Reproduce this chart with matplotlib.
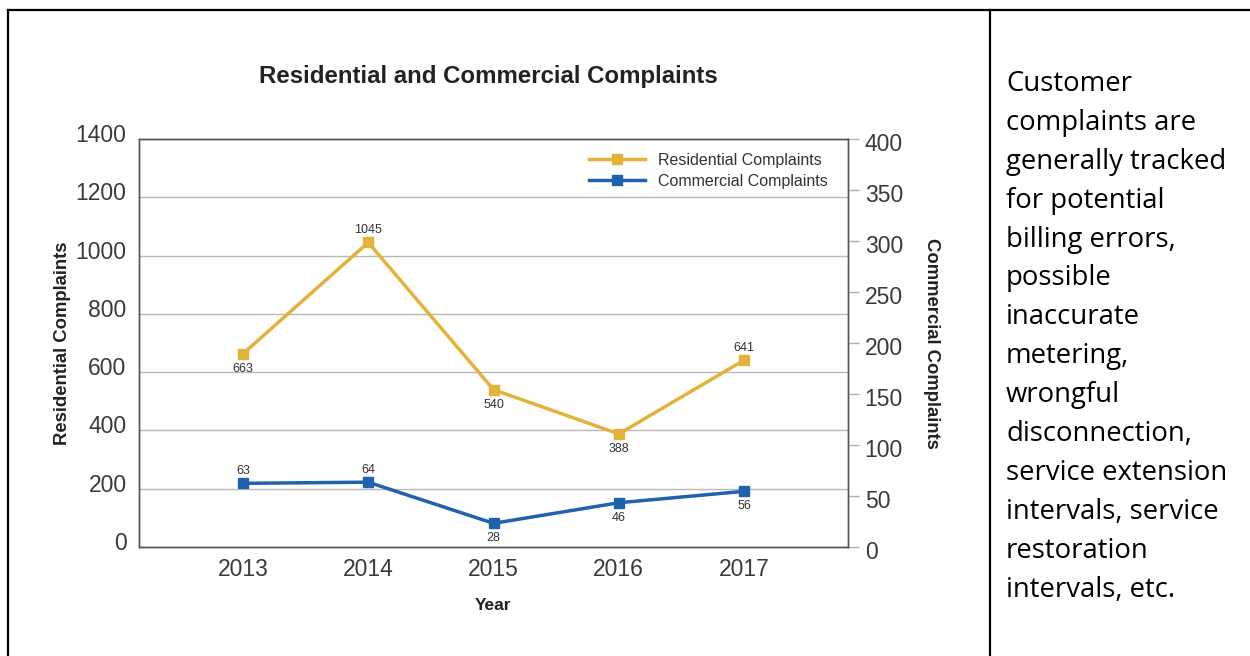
import matplotlib
matplotlib.use("Agg")
import matplotlib.pyplot as plt
import matplotlib.transforms as mtransforms
from matplotlib.lines import Line2D

years = [2013, 2014, 2015, 2016, 2017]
residential = [663, 1045, 540, 388, 641]
commercial = [63, 64, 28, 46, 56]
res_label_pos = ["below", "above", "below", "below", "above"]
com_label_pos = ["above", "above", "below", "below", "below"]
left_ticks = [0, 200, 400, 600, 800, 1000, 1200, 1400]
right_ticks = [0, 50, 100, 150, 200, 250, 300, 350, 400]
side_text = ["Customer", "complaints are", "generally tracked", "for potential",
             "billing errors,", "possible", "inaccurate", "metering,", "wrongful",
             "disconnection,", "service extension", "intervals, service",
             "restoration", "intervals, etc."]

GOLD = "#e2b33b"
BLUE = "#1f62ae"
plt.rcParams['font.family'] = ['Liberation Sans', 'DejaVu Sans']

W, H = 1250, 656
fig = plt.figure(figsize=(W / 100, H / 100), dpi=100)
fig.patch.set_facecolor("white")

def fx(px):
    return px / W

def fy(py):
    return 1 - py / H

# table borders
for (x0, y0, x1, y1) in [(8, 10, 1250, 10), (8, 10, 8, 656), (990, 10, 990, 656)]:
    fig.add_artist(Line2D([fx(x0), fx(x1)], [fy(y0), fy(y1)], color="black", lw=1.6))

L, R, T, B = 139, 848, 139, 547
rect = [fx(L), fy(B), fx(R) - fx(L), fy(T) - fy(B)]
ax = fig.add_axes(rect)
ax2 = ax.twinx()
# the commercial series in the source chart is drawn on a slightly different scale
ax3 = ax.twinx()
ax3.set_ylim(7.3, 364.2)
ax3.axis("off")

ax.set_xlim(2012.17, 2017.83)
ax.set_ylim(0, 1400)
ax2.set_ylim(0, 400)

ax.set_yticks(left_ticks)
ax.set_yticklabels([str(v) for v in left_ticks], fontsize=16.5, color="#3a3a3a")
ax.tick_params(axis="y", length=0, pad=9)
up = mtransforms.ScaledTranslation(0, 6 / 100, fig.dpi_scale_trans)
for lab in ax.get_yticklabels():
    lab.set_transform(lab.get_transform() + up)
ax.set_xticks(years)
ax.set_xticklabels([str(y) for y in years], fontsize=16.5, color="#3a3a3a")
ax.tick_params(axis="x", length=0, pad=8)
ax.grid(axis="y", color="#b8b8b8", lw=1)
ax.set_axisbelow(True)

ax2.set_yticks(right_ticks)
ax2.set_yticklabels([str(v) for v in right_ticks], fontsize=16.5, color="#3a3a3a")
ax2.tick_params(axis="y", length=8, width=1, color="#b0b0b0", pad=4)
down = mtransforms.ScaledTranslation(0, -3 / 100, fig.dpi_scale_trans)
for lab in ax2.get_yticklabels():
    lab.set_transform(lab.get_transform() + down)

for sp in ["left", "top", "bottom", "right"]:
    ax.spines[sp].set_color("#555555")
    ax2.spines[sp].set_color("#555555")
    ax.spines[sp].set_linewidth(1)
    ax2.spines[sp].set_linewidth(1)

l1, = ax.plot(years, residential, color=GOLD, lw=2.5, marker="s", ms=7.5,
              label="Residential Complaints")
l2, = ax3.plot(years, commercial, color=BLUE, lw=2.5, marker="s", ms=7.5,
               label="Commercial Complaints")

def label_points(a, xs, vs, poss):
    for x, v, p in zip(xs, vs, poss):
        off = 9.0 if p == "above" else -10.8
        a.annotate(str(v), (x, v), xytext=(0, off), textcoords="offset points",
                   ha="center", va="center", fontsize=9, color="#333333")

label_points(ax, years, residential, res_label_pos)
label_points(ax3, years, commercial, com_label_pos)

ax.set_ylabel("Residential Complaints", fontsize=13.3, fontweight="bold",
              color="#222222", labelpad=3)
ax2.set_ylabel("Commercial Complaints", fontsize=13.3, fontweight="bold",
               color="#222222", rotation=270, labelpad=27)
ax.set_xlabel("Year", fontsize=12.5, fontweight="bold", color="#222222", labelpad=12)

fig.text(fx(488), fy(76), "Residential and Commercial Complaints", fontsize=17.3,
         fontweight="bold", color="#222222", ha="center", va="center")

leg = ax3.legend(handles=[l1, l2], loc="upper right", bbox_to_anchor=(0.985, 0.99),
                 frameon=False, fontsize=11.5, handlelength=3.5, labelspacing=0.4,
                 handletextpad=0.8, borderaxespad=0.2)
for t in leg.get_texts():
    t.set_color("#333333")

# side text
y0 = 84
for i, line in enumerate(side_text):
    fig.text(fx(1006), fy(y0 + i * 38.9), line, fontsize=19.8, family=["Open Sans", "DejaVu Sans"],
             color="black", ha="left", va="center")

fig.savefig("out.png", dpi=100, facecolor="white")
